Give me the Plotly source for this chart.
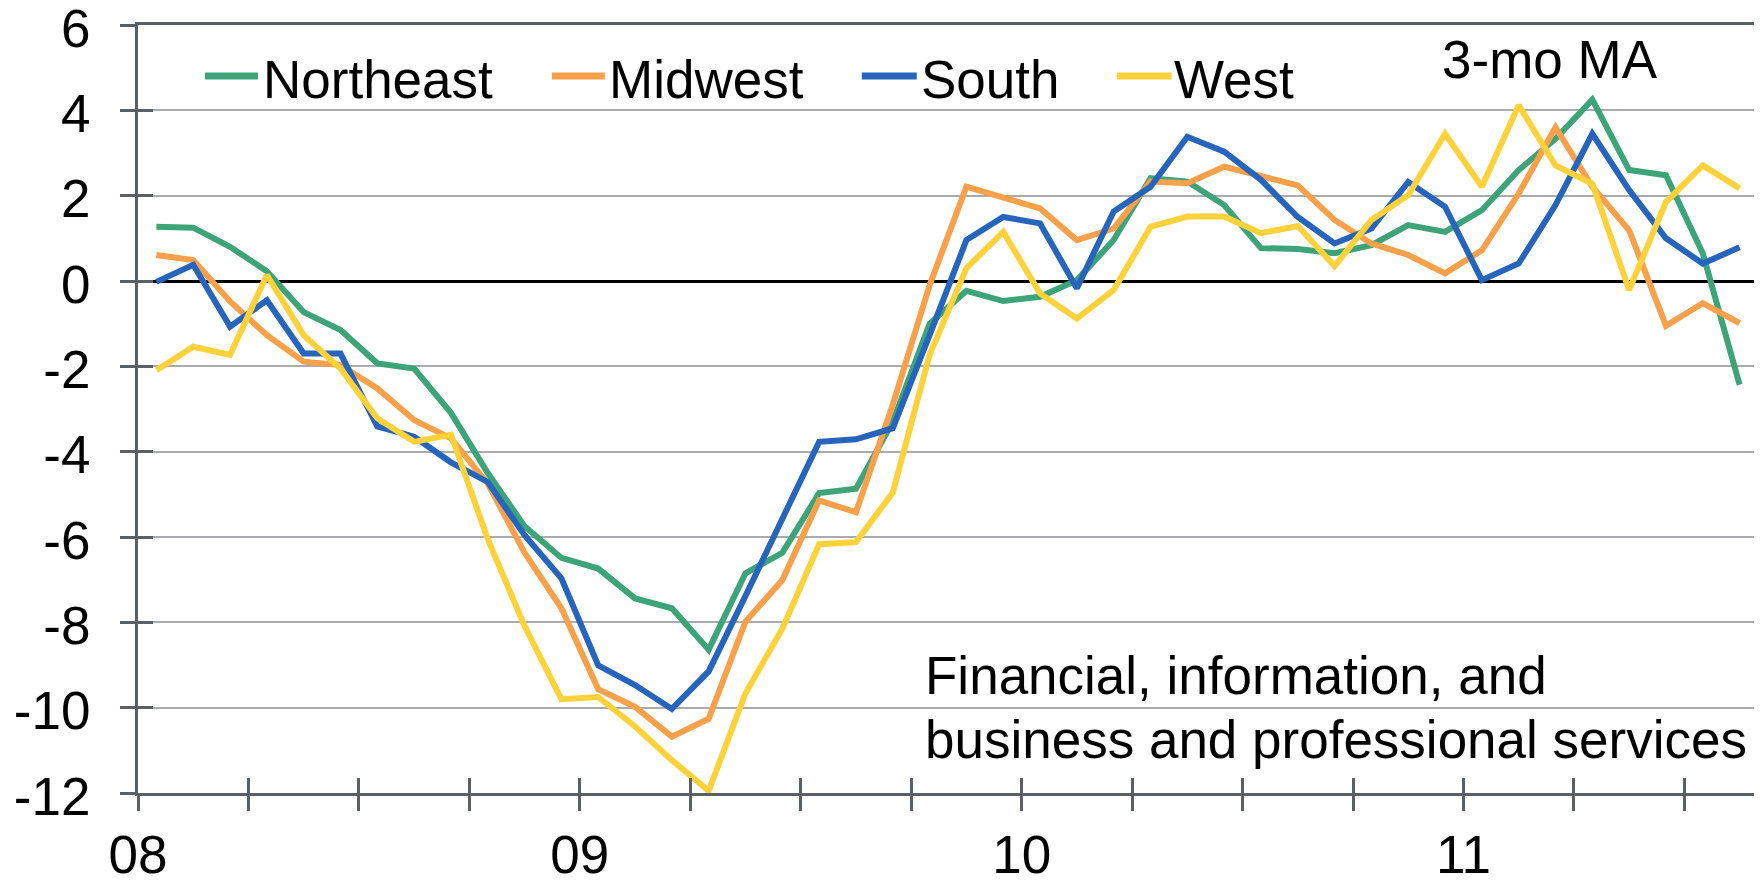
import plotly.graph_objects as go

# ---------------- data ----------------
months = [f"{y}-{m:02d}" for y in range(2008, 2012) for m in range(1, 13)][:44]

northeast = [1.27, 1.25, 0.80, 0.23, -0.73, -1.15, -1.93, -2.05, -3.09, -4.50,
             -5.75, -6.49, -6.74, -7.44, -7.67, -8.64, -6.85, -6.37, -4.97, -4.87,
             -3.30, -1.00, -0.23, -0.47, -0.37, 0.02, 0.96, 2.41, 2.33, 1.78,
             0.77, 0.75, 0.65, 0.84, 1.31, 1.15, 1.66, 2.60, 3.33, 4.25,
             2.60, 2.48, 0.65, -2.43]
midwest = [0.61, 0.49, -0.48, -1.27, -1.89, -1.97, -2.52, -3.26, -3.69, -4.75,
           -6.37, -7.67, -9.57, -9.98, -10.68, -10.26, -7.98, -7.01, -5.14, -5.42,
           -2.90, -0.10, 2.21, 1.96, 1.70, 0.96, 1.23, 2.33, 2.29, 2.68,
           2.45, 2.24, 1.43, 0.88, 0.61, 0.18, 0.72, 2.05, 3.60, 2.21,
           1.19, -1.05, -0.52, -0.99]
south = [-0.02, 0.38, -1.07, -0.45, -1.70, -1.70, -3.41, -3.65, -4.25, -4.71,
         -5.96, -6.97, -9.01, -9.47, -10.03, -9.15, -7.38, -5.57, -3.77, -3.71,
         -3.45, -1.27, 0.96, 1.50, 1.35, -0.17, 1.63, 2.21, 3.38, 3.03,
         2.37, 1.50, 0.88, 1.23, 2.32, 1.74, 0.02, 0.41, 1.78, 3.45,
         2.13, 1.00, 0.41, 0.79]
west = [-2.09, -1.54, -1.73, 0.14, -1.27, -2.05, -3.22, -3.77, -3.60, -6.05,
        -8.09, -9.80, -9.75, -10.44, -11.23, -11.95, -9.66, -8.15, -6.17, -6.12,
        -4.96, -1.73, 0.30, 1.15, -0.29, -0.88, -0.21, 1.27, 1.51, 1.51,
        1.12, 1.29, 0.35, 1.43, 2.01, 3.45, 2.21, 4.12, 2.71, 2.28,
        -0.21, 1.85, 2.71, 2.17]

series_names = ["Northeast", "Midwest", "South", "West"]
series_values = [northeast, midwest, south, west]
series_colors = ["#3DA47A", "#F9A04B", "#2665BB", "#FFD23C"]

year_labels = ["08", "09", "10", "11"]
y_tick_values = list(range(-12, 7, 2))
note_label = "3-mo MA"
panel_title = ["Financial, information, and", "business and professional services"]

# ---------------- layout geometry (screen pixels) ----------------
SCREEN_W, SCREEN_H = 1762, 884
PAGE_OFFSET = 8          # default body margin of the html page
W, H = SCREEN_W - PAGE_OFFSET, SCREEN_H - PAGE_OFFSET
# plot area in screen pixels
L, R, T, B = 138, 1758.5, 25, 793
FONT = "Liberation Sans, Arial, Helvetica, sans-serif"
AXIS_COLOR = "#5B5F66"
GRID_COLOR = "#A9ABAE"
LINE_W = 6
LEGEND_LINE_W = 7


def px_x(px):
    return (px - L) / (R - L)


def px_y(py):
    return (B - py) / (B - T)


x_pos = [i + 0.5 for i in range(len(months))]
quarter_ticks = list(range(0, len(months), 3))
quarter_text = []
for q in quarter_ticks:
    quarter_text.append(year_labels[q // 12] if q % 12 == 0 else "")

fig = go.Figure()
for name, vals, col in zip(series_names, series_values, series_colors):
    fig.add_trace(go.Scatter(
        x=x_pos, y=vals, mode="lines", name=name,
        line=dict(color=col, width=LINE_W),
        showlegend=False,
        hovertext=months,
    ))

# empty helper trace so the overlaid tick-only axes get drawn
fig.add_trace(go.Scatter(x=[], y=[], xaxis="x2", yaxis="y2",
                         showlegend=False, hoverinfo="skip"))

axis_common = dict(
    showline=True, linecolor=AXIS_COLOR, linewidth=3, mirror=True,
    ticks="outside", ticklen=15, tickwidth=3, tickcolor=AXIS_COLOR,
    tickfont=dict(family=FONT, size=53, color="#000000"),
    ticklabeloverflow="allow", automargin=False,
)

fig.update_layout(
    template="none",
    width=W, height=H,
    margin=dict(l=L - PAGE_OFFSET, r=W - (R - PAGE_OFFSET),
                t=T - PAGE_OFFSET, b=H - (B - PAGE_OFFSET), pad=0, autoexpand=False),
    paper_bgcolor="white", plot_bgcolor="white",
    xaxis=dict(
        range=[0, len(months)], tickmode="array",
        tickvals=quarter_ticks, ticktext=quarter_text,
        showgrid=False, zeroline=False,
        ticklabelstandoff=-2,
        **axis_common,
    ),
    yaxis=dict(
        range=[-12, 6], tickmode="array", tickvals=y_tick_values,
        ticktext=[str(v) for v in y_tick_values],
        showgrid=True, gridcolor=GRID_COLOR, gridwidth=2,
        zeroline=True, zerolinecolor="#000000", zerolinewidth=3,
        ticklabelstandoff=19, ticklabelshift=3,
        **axis_common,
    ),
    xaxis2=dict(
        overlaying="x", anchor="y2", side="bottom",
        range=[0, len(months)], tickmode="array", tickvals=quarter_ticks,
        ticks="inside", ticklen=15, tickwidth=3, tickcolor=AXIS_COLOR,
        showticklabels=False, showgrid=False, zeroline=False, showline=False,
        automargin=False,
    ),
    yaxis2=dict(
        overlaying="y", anchor="x2", side="left",
        range=[-12, 6], tickmode="array", tickvals=y_tick_values,
        ticks="inside", ticklen=15, tickwidth=3, tickcolor=AXIS_COLOR,
        showticklabels=False, showgrid=False, zeroline=False, showline=False,
        automargin=False,
    ),
    showlegend=False,
)

# ---------------- manual legend ----------------
legend_line_px = [(205, 258), (552, 605), (862, 917), (1117, 1172)]
legend_text_px = [261, 607, 919, 1172]
legend_line_y = 76
legend_text_y = 79
for (x0, x1), tx, name, col in zip(legend_line_px, legend_text_px, series_names, series_colors):
    fig.add_shape(type="line", xref="paper", yref="paper",
                  x0=px_x(x0), x1=px_x(x1), y0=px_y(legend_line_y), y1=px_y(legend_line_y),
                  line=dict(color=col, width=LEGEND_LINE_W))
    fig.add_annotation(xref="paper", yref="paper", x=px_x(tx), y=px_y(legend_text_y),
                       xanchor="left", yanchor="middle", showarrow=False, text=name,
                       font=dict(family=FONT, size=53, color="#000000"))

fig.add_annotation(xref="paper", yref="paper", x=px_x(1440), y=px_y(60),
                   xanchor="left", yanchor="middle", showarrow=False, text=note_label,
                   font=dict(family=FONT, size=53, color="#000000"))

for line_text, cy in zip(panel_title, [675, 739]):
    fig.add_annotation(xref="paper", yref="paper", x=px_x(923), y=px_y(cy),
                       xanchor="left", yanchor="middle", showarrow=False, text=line_text,
                       font=dict(family=FONT, size=53, color="#000000"))

fig.write_html("out.html")
